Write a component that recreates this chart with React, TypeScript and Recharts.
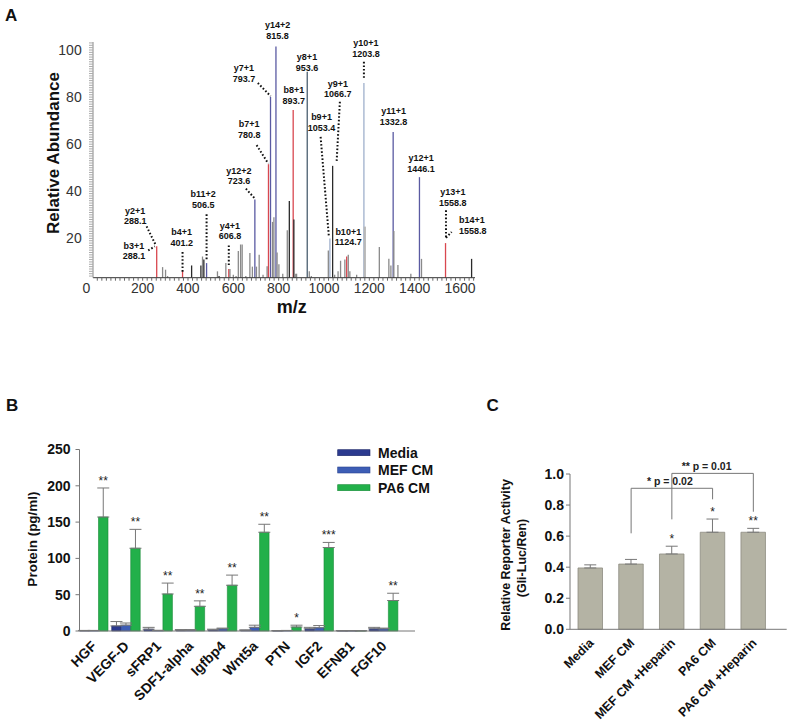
import React from 'react';
import {
  ComposedChart, BarChart, Bar, XAxis, YAxis, Scatter, ReferenceLine, ReferenceDot, ErrorBar, LabelList,
} from 'recharts';

const FONT = '"Liberation Sans", Arial, Helvetica, sans-serif';

// ---------------- Panel A: MS/MS spectrum ----------------
const peakMz = [
  262, 288, 301, 310, 376, 416, 457, 464, 470, 482, 530, 537, 567, 580, 585, 600, 612, 622, 632, 639,
  655, 673, 684, 695, 702, 714, 731, 749, 755, 764, 773, 779, 788, 793, 801, 818, 838, 847, 864, 867,
  873, 879, 926, 935, 944, 1019, 1026, 1038, 1047, 1062, 1073, 1092, 1100, 1107, 1114, 1144, 1176, 1180,
  1244, 1286, 1295, 1305, 1308, 1326, 1383, 1421, 1430, 1536, 1651,
];
const peakIntensity = [
  16.7, 7.8, 6.7, 4, 6.1, 8.5, 8.5, 12.3, 11, 9.5, 6, 4, 9.5, 7, 7, 4.5, 4, 14.6, 17.4, 17.4,
  4, 13.8, 8, 36.5, 8, 13, 4.5, 8.2, 51.5, 80.1, 27, 29, 101.5, 14, 9, 5, 23.4, 35.9, 74.5, 28,
  5, 5, 90.8, 6, 4, 14.9, 19.9, 50.8, 4.5, 6, 10.5, 11, 12.3, 13, 6, 4.5, 86, 25,
  16.3, 11.3, 8.5, 65.2, 23.1, 8.7, 5, 46, 11.3, 18, 11.3,
];
// r = b/y ion (red), b = y ion (blue), l = light blue, g = grey, k = black, s = slate
const peakIon = [
  'r', 'g', 'g', 'g', 'r', 'k', 'k', 'g', 'k', 'b', 'g', 'k', 'g', 'r', 'g', 'g', 'g', 'g', 'g', 'g',
  'g', 'g', 'g', 'b', 'g', 'g', 'g', 'g', 'r', 'b', 'g', 'g', 'b', 'g', 'g', 'g', 'g', 'k', 'r', 'k',
  'g', 'g', 's', 'g', 'g', 'g', 'l', 'k', 'g', 'g', 'g', 'g', 'r', 'g', 'g', 'g', 'l', 'w',
  'g', 'g', 'g', 'b', 'g', 'g', 'g', 'b', 'g', 'r', 'k',
];
const ionColors: Record<string, string> = {
  r: '#d9474f', b: '#5a5aa2', l: '#9fb0cc', g: '#8a8a8a', k: '#2a2a2a', s: '#4b5f70', w: '#b8b8b8',
};
const specMajorXTicks = [0, 200, 400, 600, 800, 1000, 1200, 1400, 1600];
const specMajorYTicks = [20, 40, 60, 80, 100];

// fragment-ion annotations (label text)
const annLine1 = ['y14+2', 'y7+1', 'y8+1', 'b8+1', 'y10+1', 'y9+1', 'b9+1', 'b7+1', 'y11+1', 'y12+2',
  'b11+2', 'y2+1', 'b3+1', 'b4+1', 'y4+1', 'b10+1', 'y12+1', 'y13+1', 'b14+1'];
const annLine2 = ['815.8', '793.7', '953.6', '893.7', '1203.8', '1066.7', '1053.4', '780.8', '1332.8', '723.6',
  '506.5', '288.1', '288.1', '401.2', '606.8', '1124.7', '1446.1', '1558.8', '1558.8'];

// annotation placement (data coordinates of label centre)
const annLayout = [
  { mz: 795, v: 110.6 }, { mz: 647, v: 92.5 }, { mz: 925, v: 97.1 }, { mz: 867, v: 83 },
  { mz: 1185, v: 102.9 }, { mz: 1061, v: 85.8 }, { mz: 989, v: 71.6 }, { mz: 670, v: 68.5 },
  { mz: 1307, v: 74 }, { mz: 625, v: 48.9 }, { mz: 467, v: 39 }, { mz: 167, v: 31.9 },
  { mz: 161.5, v: 17 }, { mz: 372, v: 22.7 }, { mz: 585, v: 25.5 }, { mz: 1107, v: 23 },
  { mz: 1428, v: 54.3 }, { mz: 1568, v: 39.7 }, { mz: 1595, v: 27.7, start: true },
];
const leaderLayout = [
  [[708, 86], [764.5, 80.4]], [[1176, 95], [1176, 88]], [[1070, 78], [1055.6, 52.5]],
  [[985, 63.1], [1021.6, 20.6]], [[702.7, 59.6], [753.9, 51.8]], [[655.5, 41.1], [695, 36.9]],
  [[482, 30.2], [482, 10.6]], [[217.5, 25.1], [258.5, 17]], [[224.5, 14.9], [254, 16.6]],
  [[376, 14.2], [376, 5.7]], [[580, 17], [580, 7.8]], [[1538, 31.9], [1538, 20.3]],
  [[1538, 20.3], [1563, 22.7]],
];

const SPEC_BASE = 3.3;
const SPEC_TOP = 103.4;

// ---------------- Panel B: protein levels ----------------
const proteins = ['HGF', 'VEGF-D', 'sFRP1', 'SDF1-alpha', 'Igfbp4', 'Wnt5a', 'PTN', 'IGF2', 'EFNB1', 'FGF10'];
const mediaVals = [0.5, 7, 2.5, 1, 1.5, 1, 0.3, 3, 0.3, 3];
const mediaErr = [0.3, 6, 2.5, 1, 1, 0.5, 0.2, 2, 0.2, 2];
const mefVals = [0.5, 8, 0.5, 1, 3, 5, 0.5, 4.5, 0.3, 3];
const mefErr = [0.3, 3, 0.5, 1, 1, 3, 0.3, 3, 0.2, 1];
const pa6Vals = [157, 114, 51, 34, 63, 136, 5.5, 115, 0.3, 42];
const pa6Err = [40, 26, 15, 7.5, 14, 11, 2.5, 7, 0, 10];
const pa6Sig = ['**', '**', '**', '**', '**', '**', '*', '***', '', '**'];
const proteinTicks = [0, 50, 100, 150, 200, 250];
const seriesNamesB = ['Media', 'MEF CM', 'PA6 CM'];

// ---------------- Panel C: Gli reporter ----------------
const conditions = ['Media', 'MEF CM', 'MEF CM +Heparin', 'PA6 CM', 'PA6 CM +Heparin'];
const reporter = [0.395, 0.42, 0.485, 0.625, 0.625];
const reporterErr = [0.02, 0.03, 0.05, 0.085, 0.025];
const reporterSig = ['', '', '*', '*', '**'];
const reporterTicks = [0, 0.2, 0.4, 0.6, 0.8, 1.0];
const bracketLabels = ['* p = 0.02', '** p = 0.01'];
const bracketFrom = ['MEF CM', 'MEF CM +Heparin'];
const bracketTo = ['PA6 CM', 'PA6 CM +Heparin'];
const bracketLevels = [[0.618, 0.908, 0.837], [0.708, 1.004, 0.757]];
const bracketLabelAt = [{ x: 'MEF CM +Heparin', v: 0.95, dx: -2 }, { x: 'PA6 CM', v: 1.047, dx: -6 }];

const colorsB = ['#2b3a8f', '#3d5db5', '#22b04a'];
const strokesB = ['#1c2768', '#2c4590', '#178a36'];

// ---------------- helpers ----------------
const SpecYTick = (p: any) => {
  const { x, y, payload } = p;
  if (!specMajorYTicks.includes(payload.value)) return <g />;
  return (
    <text x={x} y={y} dy={5} textAnchor="end" fontSize={14} fill="#333" fontFamily={FONT}>{payload.value}</text>
  );
};
const SpecXTick = (p: any) => {
  const { x, y, payload } = p;
  if (!specMajorXTicks.includes(payload.value)) return <g />;
  return (
    <text x={payload.value === 0 ? x - 11 : x} y={y} dy={10.6} textAnchor="middle" fontSize={14} fill="#333" fontFamily={FONT}>
      {payload.value}
    </text>
  );
};
const AngleTick = (p: any) => {
  const { x, y, payload, fs, off } = p;
  const tx = x + 4;
  const ty = y + (off ?? 16);
  return (
    <text x={tx} y={ty} transform={`rotate(-45, ${tx}, ${ty})`} textAnchor="end" fontSize={fs}
      fontWeight={700} fontFamily={FONT} fill="#111">
      {payload.value}
    </text>
  );
};
const makeStar = (vals: number[], errs: number[], sigs: string[], fs: number) => (p: any) => {
  const { x, y, width, height, value } = p;
  const i = value as number;
  const sig = sigs[i];
  if (!sig) return <g />;
  const h = Math.abs(height);
  const per = vals[i] ? h / vals[i] : 0;
  const top = Math.min(y, y + height) - errs[i] * per;
  return (
    <text x={x + width / 2} y={top - 3} textAnchor="middle" fontSize={fs} fontFamily={FONT} fill="#222">{sig}</text>
  );
};

function PanelA() {
  const data = peakMz.map((mz, i) => ({ mz, intensity: peakIntensity[i] }));
  const xTicks = Array.from({ length: 84 }, (_, i) => i * 20);
  const yTicks = Array.from({ length: 100 }, (_, i) => i + 4);
  return (
    <div style={{ position: 'absolute', left: 0, top: 0 }}>
      <ComposedChart width={500} height={330} data={data} margin={{ top: 42, right: 25, left: 0, bottom: 0 }}>
        <XAxis type="number" dataKey="mz" domain={[-19, 1666]} ticks={xTicks} interval={0} tick={SpecXTick}
          tickSize={3} tickLine={{ stroke: '#666' }} axisLine={{ stroke: '#333' }} height={52.3} allowDataOverflow />
        <YAxis type="number" domain={[SPEC_BASE, SPEC_TOP]} ticks={yTicks} interval={0} tick={SpecYTick}
          tickSize={4} tickMargin={7.3} width={93} axisLine={{ stroke: '#888' }} tickLine={{ stroke: '#aaa' }} allowDataOverflow />
        <Scatter dataKey="intensity" fill="none" shape={() => <g />} isAnimationActive={false} />
        {peakMz.map((mz, i) => (
          <ReferenceLine key={`pk${i}`} segment={[{ x: mz, y: SPEC_BASE }, { x: mz, y: peakIntensity[i] }]}
            stroke={ionColors[peakIon[i]]} strokeWidth={peakIon[i] === 'w' ? 2.2 : 1.3} ifOverflow="visible" />
        ))}
        {leaderLayout.map((seg, i) => (
          <ReferenceLine key={`ld${i}`} segment={[{ x: seg[0][0], y: seg[0][1] }, { x: seg[1][0], y: seg[1][1] }]}
            stroke="#111" strokeWidth={2} strokeDasharray="1.6 2" ifOverflow="visible" />
        ))}
        {annLayout.map((a, i) => (
          <ReferenceDot key={`an${i}`} x={a.mz} y={a.v} r={0} ifOverflow="visible"
            shape={(p: any) => (
              <text x={p.cx} y={p.cy + 3.2} textAnchor={a.start ? 'start' : 'middle'} fontSize={9}
                fontWeight={700} fontFamily={FONT} fill="#111">
                <tspan x={p.cx} dy={0}>{annLine1[i]}</tspan>
                <tspan x={p.cx} dy={10.7}>{annLine2[i]}</tspan>
              </text>
            )} />
        ))}
      </ComposedChart>
    </div>
  );
}

function PanelB() {
  const data = proteins.map((name, i) => ({
    name, idx: i, media: mediaVals[i], mef: mefVals[i], pa6: pa6Vals[i],
    mediaE: [0, mediaErr[i]], mefE: [0, mefErr[i]], pa6E: [0, pa6Err[i]],
  }));
  const keys = ['media', 'mef', 'pa6'];
  return (
    <div style={{ position: 'absolute', left: 0, top: 430 }}>
      <BarChart width={430} height={293} data={data} margin={{ top: 19.5, right: 15, left: 0, bottom: 0 }}
        barGap={0} barSize={9.5}>
        <XAxis dataKey="name" interval={0} tick={(p: any) => <AngleTick {...p} fs={14} />} tickLine={false}
          tickSize={0} tickMargin={0} axisLine={{ stroke: '#777' }} height={92} padding={{ left: -2, right: 15.4 }} />
        <YAxis domain={[0, 250]} ticks={proteinTicks} interval={0} width={79.5}
          tick={{ fontSize: 14, fontWeight: 700, fill: '#111', fontFamily: FONT }} tickSize={4} tickMargin={5}
          axisLine={{ stroke: '#777' }} tickLine={{ stroke: '#777' }} />
        {keys.map((k, s) => (
          <Bar key={k} dataKey={k} name={seriesNamesB[s]} fill={colorsB[s]} stroke={strokesB[s]} strokeWidth={0.6}
            isAnimationActive={false}>
            <ErrorBar dataKey={`${k}E`} width={6} stroke="#777" strokeWidth={1} direction="y" />
            {k === 'pa6' && <LabelList dataKey="idx" content={makeStar(pa6Vals, pa6Err, pa6Sig, 12)} />}
          </Bar>
        ))}
      </BarChart>
    </div>
  );
}

function PanelC() {
  const data = conditions.map((name, i) => ({ name, idx: i, v: reporter[i], e: [0, reporterErr[i]] }));
  return (
    <div style={{ position: 'absolute', left: 480, top: 430 }}>
      <BarChart width={320} height={293} data={data} margin={{ top: 44, right: 13.3, left: 0, bottom: 0 }} barSize={24.5}>
        <XAxis dataKey="name" interval={0} tick={(p: any) => <AngleTick {...p} fs={12.6} off={14.5} />} tickLine={false}
          tickSize={0} tickMargin={0} axisLine={{ stroke: '#777' }} height={93.7} padding={{ left: 0, right: 13 }} />
        <YAxis domain={[0, 1]} ticks={reporterTicks} interval={0} width={90} tickFormatter={(v: number) => v.toFixed(1)}
          tick={{ fontSize: 14, fontWeight: 700, fill: '#111', fontFamily: FONT }} tickSize={4} tickMargin={2}
          axisLine={{ stroke: '#777' }} tickLine={{ stroke: '#777' }} />
        <Bar dataKey="v" fill="#b4b3a4" stroke="#8d8c80" strokeWidth={0.8} isAnimationActive={false}>
          <ErrorBar dataKey="e" width={6} stroke="#777" strokeWidth={1} direction="y" />
          <LabelList dataKey="idx" content={makeStar(reporter, reporterErr, reporterSig, 12)} />
        </Bar>
        {bracketLevels.map((lv, i) => (
          <React.Fragment key={`br${i}`}>
            <ReferenceLine segment={[{ x: bracketFrom[i], y: lv[0] }, { x: bracketFrom[i], y: lv[1] }]}
              stroke="#777" strokeWidth={1} ifOverflow="visible" />
            <ReferenceLine segment={[{ x: bracketFrom[i], y: lv[1] }, { x: bracketTo[i], y: lv[1] }]}
              stroke="#777" strokeWidth={1} ifOverflow="visible" />
            <ReferenceLine segment={[{ x: bracketTo[i], y: lv[1] }, { x: bracketTo[i], y: lv[2] }]}
              stroke="#777" strokeWidth={1} ifOverflow="visible" />
            <ReferenceDot x={bracketLabelAt[i].x} y={bracketLabelAt[i].v} r={0} ifOverflow="visible"
              shape={(p: any) => (
                <text x={p.cx + bracketLabelAt[i].dx} y={p.cy + 3.6} textAnchor="middle" fontSize={10.5}
                  fontWeight={700} fontFamily={FONT} fill="#222">{bracketLabels[i]}</text>
              )} />
          </React.Fragment>
        ))}
      </BarChart>
    </div>
  );
}

export default function App() {
  const legendY = [452.7, 470, 487.7];
  return (
    <div style={{ position: 'absolute', left: 0, top: 0, width: 800, height: 723, background: '#fff', fontFamily: FONT, overflow: 'hidden' }}>
      <PanelA />
      <PanelB />
      <PanelC />
      <svg width={800} height={723} style={{ position: 'absolute', left: 0, top: 0, pointerEvents: 'none' }}>
        <g fontFamily={FONT} fontWeight={700} fill="#111">
          <text x={5} y={21} fontSize={17}>A</text>
          <text x={6} y={411} fontSize={17}>B</text>
          <text x={486.5} y={411} fontSize={17}>C</text>
          <text transform="translate(59,153) rotate(-90)" textAnchor="middle" fontSize={17}>Relative Abundance</text>
          <text x={291.7} y={313} textAnchor="middle" fontSize={18}>m/z</text>
          <text transform="translate(37,539) rotate(-90)" textAnchor="middle" fontSize={13.5}>Protein (pg/ml)</text>
          <text transform="translate(509.5,555) rotate(-90)" textAnchor="middle" fontSize={12.5}>Relative Reporter Activity</text>
          <text transform="translate(525.5,558) rotate(-90)" textAnchor="middle" fontSize={12.5}>(Gli-Luc/Ren)</text>
          {seriesNamesB.map((n, i) => (
            <g key={n}>
              <rect x={337.7} y={legendY[i] - 3} width={32.3} height={6} fill={colorsB[i]} stroke={strokesB[i]} strokeWidth={0.6} />
              <text x={378} y={legendY[i] + 5} fontSize={14}>{n}</text>
            </g>
          ))}
        </g>
      </svg>
    </div>
  );
}
